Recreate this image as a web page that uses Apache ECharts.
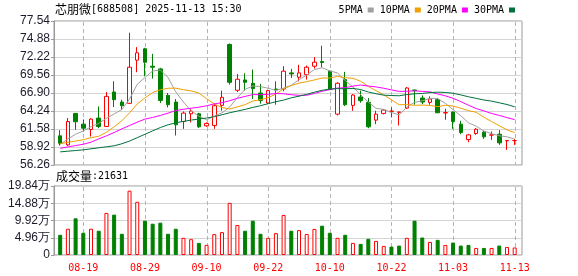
<!DOCTYPE html>
<html><head><meta charset="utf-8">
<script src="https://cdn.jsdelivr.net/npm/echarts@6/dist/echarts.min.js"></script>
<style>html,body{margin:0;padding:0;background:#fff}#c{width:578px;height:276px}</style>
</head><body><div id="c"></div>
<script>
const stockName = '芯朋微';
const stockCode = '688508';
const quoteTime = '2025-11-13 15:30';
const volumeTitle = '成交量';

const dates = ['08-14','08-15','08-18','08-19','08-20','08-21','08-22','08-25','08-26','08-27','08-28','08-29',
  '09-01','09-02','09-03','09-04','09-05','09-08','09-09','09-10','09-11','09-12','09-15','09-16','09-17','09-18','09-19',
  '09-22','09-23','09-24','09-25','09-26','09-29','09-30','10-09','10-10','10-13','10-14','10-15','10-16','10-17',
  '10-20','10-21','10-22','10-23','10-24','10-27','10-28','10-29','10-30','10-31','11-03','11-04','11-05','11-06',
  '11-07','11-10','11-11','11-12','11-13'];

const opens  = [60.57,59.23,63.88,62.30,61.51,63.19,61.95,67.05,65.56,65.37,71.75,73.43,70.86,70.46,66.55,65.56,62.69,63.83,63.83,62.05,
  62.10,65.07,74.08,67.30,68.83,68.34,66.90,65.42,67.49,67.49,69.87,69.23,69.62,70.86,71.55,70.12,63.78,68.88,65.07,66.31,
  65.51,62.89,63.88,64.18,64.06,64.67,67.35,66.16,65.51,65.91,63.95,64.08,62.30,60.02,60.91,61.11,60.68,60.81,59.85,59.86];
const closes = [59.48,62.69,62.65,61.70,63.04,61.95,66.40,65.91,65.02,70.71,72.84,71.45,70.71,65.81,65.17,62.20,63.93,64.23,61.90,62.40,
  65.02,66.26,68.48,68.93,68.48,67.54,65.81,67.25,67.35,70.12,69.72,69.87,70.71,71.45,71.40,67.40,68.34,65.17,66.60,65.76,
  61.90,63.78,64.38,64.23,64.08,67.64,67.25,65.56,66.01,63.98,64.00,62.69,61.06,60.71,61.55,60.42,60.71,59.53,59.87,59.88];
const lows   = [59.13,59.08,61.46,61.21,60.47,61.70,61.90,64.82,64.43,65.27,69.97,69.37,69.03,65.42,64.77,60.62,61.60,62.55,61.75,61.90,
  61.60,64.28,68.14,67.05,67.25,66.01,65.32,65.27,65.17,67.15,69.13,68.63,68.88,70.51,70.71,67.35,63.58,64.97,64.28,65.46,
  61.70,62.30,63.73,63.29,62.10,64.57,65.17,65.27,65.17,63.93,62.94,61.60,60.81,59.63,60.71,60.12,59.97,59.23,58.49,59.23];
const highs  = [61.41,63.19,63.93,62.99,63.19,64.92,67.05,68.63,65.91,75.81,73.68,73.58,72.69,70.61,66.90,66.01,64.18,64.52,63.98,62.55,
  65.32,67.25,74.22,69.72,69.82,70.36,68.24,67.40,68.63,70.86,70.46,71.06,70.96,72.20,73.88,70.22,68.48,70.02,66.75,67.25,
  66.16,64.28,64.52,64.77,64.10,67.79,67.38,66.55,66.40,66.16,64.57,64.18,62.79,60.86,61.70,61.31,61.21,61.41,59.90,60.12];

const volumes = [58100,75500,105500,63900,75500,69700,121000,116100,61000,184900,152900,98700,90000,92900,61000,75500,49400,45500,34800,29000,
  60000,65800,150000,86100,69700,98700,61000,49400,62900,115200,69700,71600,60500,75000,84200,63900,49400,58100,34800,31900,
  46500,40600,26100,24200,27100,49400,98700,50300,37700,43500,29000,35800,27100,29000,20300,20300,20300,27100,23200,21631];

const ma5  = [59.30,60.10,60.80,61.30,61.91,62.41,63.15,63.80,64.46,66.00,68.18,69.19,70.15,70.30,69.20,67.07,65.56,64.27,63.49,62.93,
  63.50,63.96,64.81,66.22,67.43,67.94,67.85,67.60,67.29,67.61,68.05,68.86,69.55,70.37,70.63,70.17,69.86,68.75,67.78,66.65,
  65.55,64.64,64.48,64.01,63.67,64.82,65.52,65.75,66.11,66.09,65.36,64.45,63.55,62.49,62.00,61.29,60.89,60.58,60.42,60.08];
const ma10 = [59.40,59.60,59.80,60.00,60.30,60.50,61.10,61.90,62.80,63.96,65.29,66.17,66.97,67.38,67.60,67.62,67.38,67.21,66.90,66.06,
  65.28,64.76,64.54,64.85,65.18,65.72,65.91,66.21,66.75,67.52,67.99,68.36,68.58,68.83,69.12,69.11,69.36,69.15,69.08,68.64,
  67.86,67.25,66.62,65.90,65.16,65.19,65.08,65.12,65.06,64.88,65.09,64.98,64.65,64.30,64.05,63.32,62.67,62.07,61.45,61.04];
const ma20 = [58.73,58.93,59.13,59.33,59.63,60.12,60.57,61.06,61.60,62.10,62.59,63.04,63.29,63.58,63.93,64.30,64.50,64.65,64.80,65.01,
  65.29,65.47,65.76,66.12,66.39,66.67,66.64,66.71,66.82,66.79,66.64,66.56,66.56,66.84,67.15,67.41,67.63,67.68,67.92,68.08,
  67.93,67.80,67.60,67.36,67.14,67.15,67.22,67.14,67.07,66.76,66.48,66.12,65.63,65.10,64.60,64.26,63.87,63.59,63.26,62.96];
const ma30 = [58.20,58.30,58.40,58.50,58.65,58.80,58.95,59.10,59.40,59.80,60.30,60.80,61.30,61.80,62.20,62.50,62.70,62.90,63.05,63.20,
  63.40,63.68,63.98,64.23,64.48,64.77,65.02,65.32,65.61,65.85,66.19,66.43,66.70,67.02,67.30,67.48,67.55,67.52,67.58,67.41,
  67.05,66.79,66.58,66.53,66.49,66.67,66.78,66.83,66.96,67.02,66.98,66.86,66.62,66.34,66.11,65.87,65.70,65.45,65.20,64.86];

const priceTicks  = [56.26,58.92,61.58,64.24,66.90,69.56,72.22,74.88,77.54];
const volumeTicks = [0,49600,99200,148800,198400];
const xLabels = ['08-19','08-29','09-10','09-22','10-10','10-22','11-03','11-13'];
const maNames = ['5PMA','10PMA','20PMA','30PMA'];

const UP = '#ff0000', DOWN = '#008000';
const MONO = 'DejaVu Sans Mono';
const CJK = 'Noto Sans CJK SC';

const candleData = dates.map((d, i) => [opens[i], closes[i], lows[i], highs[i]]);
const volData = volumes.map((v, i) => {
  const up = i === 0 ? closes[0] >= opens[0] : closes[i] >= closes[i - 1];
  return { value: v, itemStyle: up ? { color: '#fff', borderColor: UP, borderWidth: 1 } : { color: DOWN, borderColor: DOWN, borderWidth: 1 } };
});
const guideData = xLabels.map(d => [dates.indexOf(d), 0]);

const frameL = 54, frameR = 56, dataL = 56.35, dataR = 59.45;
const mainTop = 21, mainH = 144, volTop = 186, volH = 69;

// crisp dashed vertical guides at labelled dates, x taken from the category axis
const guideSeries = (xi, yi) => ({
  type: 'custom', xAxisIndex: xi, yAxisIndex: yi, data: guideData, z: 2, silent: true, clip: false,
  animation: false,
  renderItem: (params, api) => {
    const cs = params.coordSys;
    const x = Math.round(api.coord([api.value(0), api.value(1)])[0]) + 0.5;
    return { type: 'line', silent: true,
      shape: { x1: x, y1: cs.y + 1, x2: x, y2: cs.y + cs.height },
      style: { stroke: '#b4b4b4', fill: null, lineWidth: 1, lineDash: [4, 3] } };
  }
});

const chart = echarts.init(document.getElementById('c'), null, { renderer: 'canvas' });
const maColors = ['#a0a0a0', '#f0a000', '#ff00ff', '#00703c'];
const maData = [ma5, ma10, ma20, ma30];
const richTxt = { c: { fontFamily: CJK, fontSize: 12, color: '#000', fontWeight: 'normal' }, a: { fontFamily: MONO, fontSize: 10, color: '#000', fontWeight: 'normal' } };

chart.setOption({
  animation: false,
  backgroundColor: '#fff',
  title: [
    { left: 55, top: 3, padding: 0,
      text: `{c|${stockName}}{a|[${stockCode}] ${quoteTime}}`,
      textStyle: { fontWeight: 'normal', rich: richTxt } },
    { left: 56, top: 170, padding: 0,
      text: `{c|${volumeTitle}}{a|:${volumes[volumes.length - 1]}}`,
      textStyle: { fontWeight: 'normal', rich: richTxt } }
  ],
  legend: {
    right: 63, top: 5, padding: 0, itemWidth: 6, itemHeight: 5, itemGap: 6, align: 'right', icon: 'rect',
    selectedMode: false, data: maNames,
    textStyle: { fontFamily: MONO, fontSize: 10, color: '#000' }
  },
  grid: [
    { left: frameL, right: frameR, top: mainTop, height: mainH, show: true, borderColor: '#999', borderWidth: 1, backgroundColor: 'transparent' },
    { left: dataL, right: dataR, top: mainTop, height: mainH },
    { left: frameL, right: frameR, top: volTop, height: volH, show: true, borderColor: '#999', borderWidth: 1, backgroundColor: 'transparent' },
    { left: dataL, right: dataR, top: volTop, height: volH }
  ],
  xAxis: [
    { gridIndex: 0, type: 'value', show: false, min: 0, max: 1 },
    { gridIndex: 1, type: 'category', data: dates, boundaryGap: true, show: false },
    { gridIndex: 2, type: 'value', show: false, min: 0, max: 1 },
    { gridIndex: 3, type: 'category', data: dates, boundaryGap: true,
      axisLine: { show: false }, axisTick: { show: false }, splitLine: { show: false },
      axisLabel: { show: true, interval: (idx, val) => xLabels.includes(val), color: UP, fontFamily: MONO, fontSize: 10, margin: 8, hideOverlap: false } }
  ],
  yAxis: [
    { gridIndex: 0, type: 'value', min: priceTicks[0], max: priceTicks[priceTicks.length - 1],
      axisLine: { show: true, lineStyle: { color: '#999' } },
      axisTick: { show: true, length: 3, customValues: priceTicks, lineStyle: { color: '#999' } },
      axisLabel: { customValues: priceTicks, formatter: v => v.toFixed(2), color: '#1a1a2a', fontFamily: 'Liberation Sans', fontSize: 12, margin: 4 },
      splitLine: { show: true, lineStyle: { color: '#d4d4d4', width: 1 } } },
    { gridIndex: 1, type: 'value', min: priceTicks[0], max: priceTicks[priceTicks.length - 1], show: false, splitLine: { show: false } },
    { gridIndex: 2, type: 'value', min: volumeTicks[0], max: volumeTicks[volumeTicks.length - 1], interval: volumeTicks[1] - volumeTicks[0],
      axisLine: { show: true, lineStyle: { color: '#999' } },
      axisTick: { show: true, length: 3, lineStyle: { color: '#999' } },
      axisLabel: { formatter: v => v === 0 ? '0' : (v / 10000).toFixed(2) + '万', color: '#1a1a2a', fontFamily: 'Liberation Sans', fontSize: 12, margin: 4 },
      splitLine: { show: true, lineStyle: { color: '#d4d4d4', width: 1 } } },
    { gridIndex: 3, type: 'value', min: volumeTicks[0], max: volumeTicks[volumeTicks.length - 1], show: false, splitLine: { show: false } }
  ],
  series: [
    guideSeries(1, 1),
    guideSeries(3, 3),
    { type: 'candlestick', xAxisIndex: 1, yAxisIndex: 1, data: candleData, barWidth: 4, z: 3,
      itemStyle: { color: '#fff', color0: DOWN, borderColor: UP, borderColor0: DOWN, borderWidth: 1 },
      emphasis: { disabled: true } },
    ...maNames.map((n, k) => ({
      name: n, type: 'line', xAxisIndex: 1, yAxisIndex: 1, data: maData[k], showSymbol: false, symbol: 'none', z: 4,
      color: maColors[k], lineStyle: { width: 1, color: maColors[k] }, emphasis: { disabled: true }
    })),
    { type: 'bar', xAxisIndex: 3, yAxisIndex: 3, data: volData, barWidth: 4, z: 3, emphasis: { disabled: true } }
  ]
});
</script>
</body></html>
